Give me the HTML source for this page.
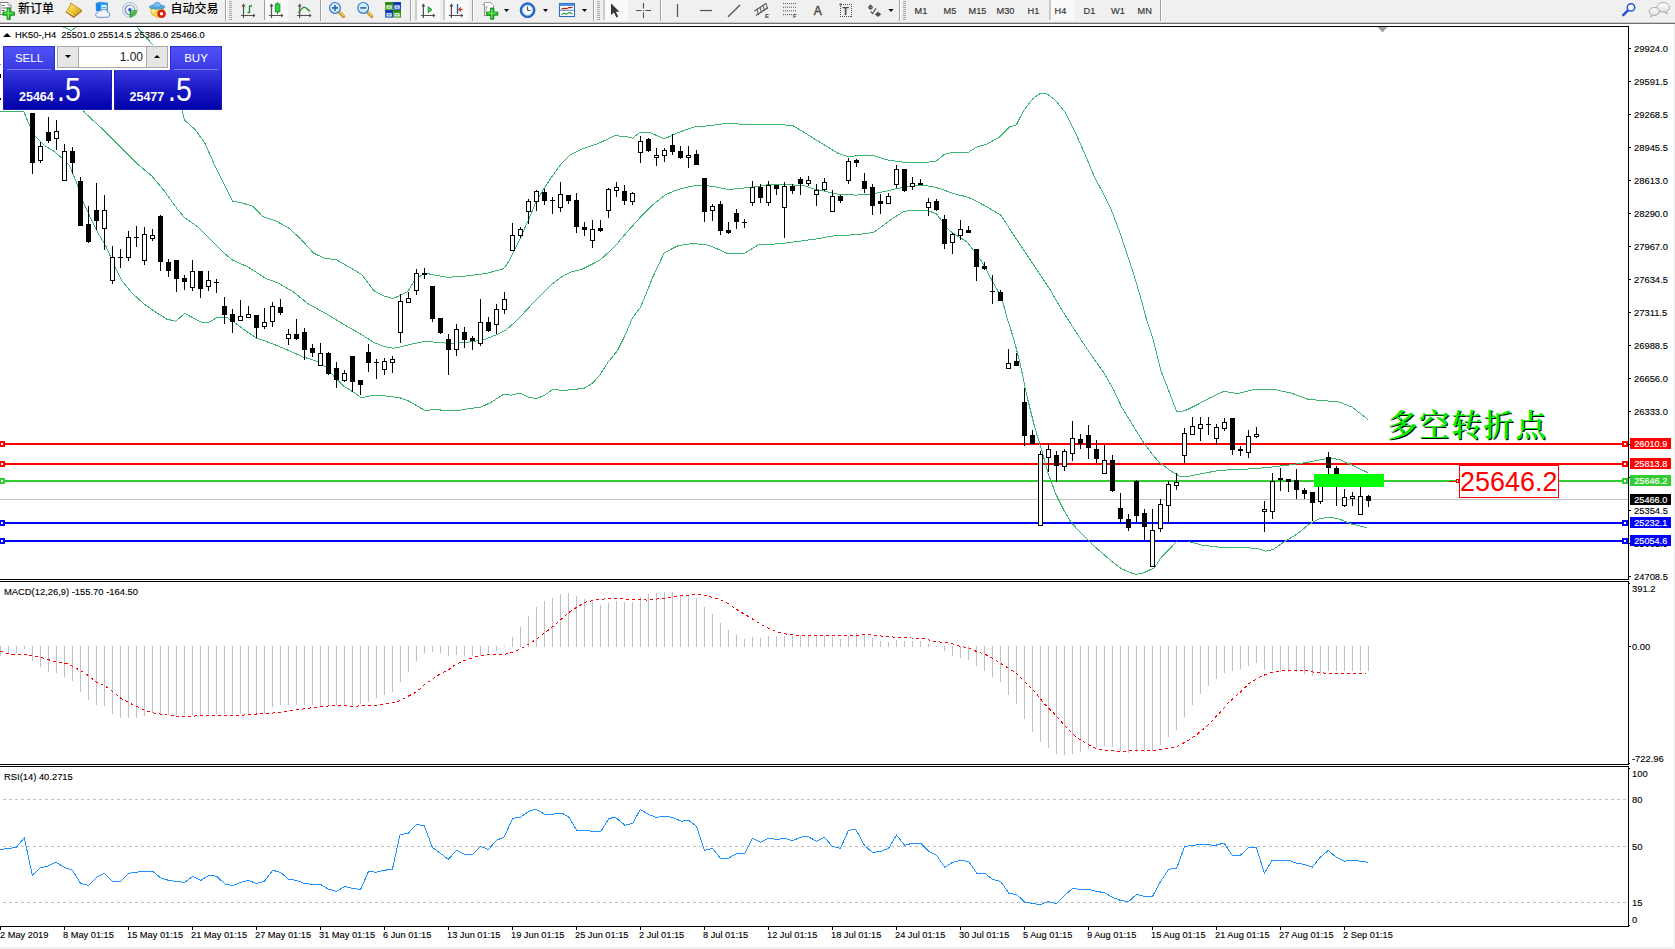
<!DOCTYPE html>
<html><head><meta charset="utf-8"><title>HK50-,H4</title>
<style>
html,body{margin:0;padding:0;}
body{width:1675px;height:949px;overflow:hidden;background:#fff;position:relative;font-family:"Liberation Sans","Noto Sans CJK SC",sans-serif;font-size:9px;color:#000;}
.abs{position:absolute;white-space:nowrap;}
.t{position:absolute;white-space:nowrap;font-size:9.4px;line-height:11px;height:11px;-webkit-text-stroke:0.12px #000;}
.pl{position:absolute;left:1630px;width:41px;height:11px;line-height:12px;font-size:9.15px;color:#fff;white-space:nowrap;-webkit-text-stroke:0.15px #fff;}
.pl span{position:absolute;left:4.3px;top:0;}

.tbt{color:#000;}
.tf{font-size:9.2px;line-height:12px;color:#303030;-webkit-text-stroke:0.15px #303030;}
.ic{font-size:6px;line-height:6px;font-weight:bold;color:#404040;}
.big{font-size:33px;line-height:36px;color:#fff;transform-origin:0 0;transform:scaleX(0.86);}
#tb{position:absolute;left:0;top:0;width:1675px;height:22px;background:#f0f0f0;}
</style></head><body>

<svg class="abs" style="left:0;top:0" width="1675" height="949" viewBox="0 0 1675 949">
<g shape-rendering="crispEdges">
<rect x="0" y="26" width="1629" height="1" fill="#000"/>
<rect x="1628" y="26" width="1" height="901" fill="#000"/>
<rect x="0" y="579" width="1629" height="1" fill="#000"/>
<rect x="0" y="581" width="1629" height="1" fill="#000"/>
<rect x="1628" y="580" width="1" height="1" fill="#fff"/>
<rect x="0" y="764" width="1629" height="1" fill="#000"/>
<rect x="0" y="766" width="1629" height="1" fill="#000"/>
<rect x="1628" y="765" width="1" height="1" fill="#fff"/>
<rect x="0" y="926" width="1629" height="1" fill="#000"/>
</g>
<defs><clipPath id="cm"><rect x="0" y="27" width="1628" height="552"/></clipPath></defs>
<g shape-rendering="crispEdges">
<rect x="0" y="499" width="1628" height="1" fill="#c0c0c0"/>
<rect x="0" y="443" width="1628" height="2" fill="#ff0000"/>
<rect x="0" y="463" width="1628" height="2" fill="#ff0000"/>
<rect x="0" y="480" width="1628" height="2" fill="#32cd32"/>
<rect x="0" y="522" width="1628" height="2" fill="#0000ff"/>
<rect x="0" y="540" width="1628" height="2" fill="#0000ff"/>
</g>
<g clip-path="url(#cm)">
<polyline points="136.0,26.0 152.0,44.0 182.0,110.0 184.6,120.2 194.7,129.1 204.8,143.0 214.9,165.7 225.0,186.0 232.6,201.1 242.7,203.2 252.9,206.2 263.0,216.8 275.6,220.9 288.3,227.7 300.9,239.1 313.5,253.0 323.7,258.0 336.3,259.8 348.9,266.9 361.6,274.5 374.2,290.9 384.3,296.0 393.2,298.5 407.6,291.9 415.2,279.3 425.3,273.0 432.9,274.8 448.0,277.3 465.7,276.0 486.0,273.5 503.7,268.7 508.7,261.6 518.8,241.4 529.0,218.6 536.5,200.9 544.1,188.3 551.7,176.9 561.8,163.0 569.4,155.4 582.1,149.1 597.2,144.0 614.9,135.7 625.0,136.4 632.6,138.2 640.2,132.1 650.3,132.6 664.2,139.0 678.1,132.6 693.3,127.1 708.5,125.8 726.2,123.5 754.0,124.6 791.9,125.1 804.6,132.6 815.2,139.4 827.8,147.0 837.9,153.3 848.0,156.6 863.2,155.1 873.3,155.4 886.0,159.7 903.7,162.2 918.8,162.4 931.5,161.9 936.5,160.9 944.1,154.6 951.7,152.6 968.2,152.3 977.0,147.0 987.1,144.0 999.8,136.9 1009.9,126.8 1016.2,125.0 1023.8,110.3 1032.6,99.0 1040.2,93.4 1046.5,93.4 1055.4,100.2 1065.5,112.9 1075.6,133.1 1085.7,155.9 1094.6,177.4 1103.4,193.8 1111.0,209.0 1118.6,229.2 1126.2,251.9 1133.8,274.7 1141.4,300.0 1146.4,319.0 1153.2,340.0 1160.8,370.3 1169.6,393.1 1176.7,411.6 1184.8,410.8 1197.5,404.5 1210.1,397.7 1224.0,391.3 1237.9,393.6 1253.1,389.8 1273.3,389.3 1291.0,393.1 1308.7,399.4 1323.9,400.7 1339.1,402.0 1351.7,407.0 1361.8,414.6 1368.1,419.7" fill="none" stroke="#3cb371" stroke-width="1" shape-rendering="crispEdges"/>
<polyline points="60.0,25.5 71.5,30.5 78.0,25.5" fill="none" stroke="#3cb371" stroke-width="1" shape-rendering="crispEdges"/>
<polyline points="83.0,110.0 84.7,112.6 101.1,127.8 118.8,145.5 136.5,163.2 151.7,175.9 164.4,191.0 177.0,208.7 184.6,217.6 197.2,226.4 209.9,239.1 222.5,251.7 232.6,260.1 247.8,266.9 265.5,278.3 278.1,283.1 293.3,291.9 308.5,304.1 326.2,313.7 343.9,324.5 359.1,333.1 374.2,342.7 384.3,346.5 393.2,348.3 400.0,347.1 412.6,343.8 425.3,341.3 448.0,343.3 465.7,342.5 483.4,340.0 496.1,334.9 506.2,329.9 518.8,318.5 531.5,304.6 541.6,294.5 551.7,284.4 561.8,276.8 571.9,271.7 582.1,269.2 599.8,260.3 614.9,246.4 627.6,231.3 640.2,217.4 652.9,204.7 665.5,194.6 678.1,189.5 690.8,186.2 703.4,185.2 716.1,187.0 728.7,189.5 741.4,188.3 754.0,187.0 769.2,184.5 786.9,184.5 804.6,185.7 812.6,188.7 825.3,191.3 837.9,194.3 855.6,195.1 873.3,193.8 886.0,191.3 896.1,188.7 908.7,186.2 921.4,185.7 931.5,186.2 941.6,189.2 954.2,193.8 966.9,196.8 977.0,201.4 989.6,208.5 1001.0,215.3 1009.9,229.2 1020.0,244.4 1030.1,259.5 1040.2,274.7 1050.3,289.9 1060.4,307.6 1081.1,340.0 1091.3,355.2 1103.9,372.9 1114.0,390.6 1121.6,407.0 1131.7,423.4 1141.8,439.9 1151.9,453.8 1159.5,462.6 1169.6,470.2 1179.8,476.5 1189.9,476.0 1202.5,473.5 1220.2,470.2 1237.9,469.7 1255.6,468.5 1270.8,467.2 1291.0,464.7 1306.2,462.6 1318.8,460.1 1328.9,458.3 1339.1,459.3 1349.2,463.9 1359.3,468.5 1368.1,472.8" fill="none" stroke="#3cb371" stroke-width="1" shape-rendering="crispEdges"/>
<polyline points="0.0,111.9 24.0,111.9 27.8,121.5 35.4,136.7 44.3,145.5 53.1,150.6 62.0,158.2 69.5,165.7 75.9,180.9 83.4,202.4 91.0,218.8 98.6,234.0 106.2,246.7 113.8,264.4 121.4,280.0 131.5,292.6 144.1,304.0 156.8,312.9 166.9,319.2 175.7,321.2 184.6,313.4 192.2,317.4 201.0,322.2 208.6,322.2 217.5,317.4 227.6,317.9 235.2,323.0 245.3,330.6 256.7,338.2 273.1,344.0 288.3,350.3 303.4,357.1 316.1,360.9 326.2,367.2 333.8,376.1 343.9,386.2 354.0,392.5 361.1,397.6 371.7,395.8 384.3,395.8 399.5,397.6 409.6,401.4 420.0,407.7 425.3,410.5 435.4,409.5 445.5,410.5 458.2,410.5 468.3,408.7 480.9,407.2 491.0,402.4 503.7,394.3 511.3,395.1 520.1,393.1 529.0,397.4 536.5,398.6 544.1,395.6 553.0,389.3 561.8,390.3 571.9,389.8 584.6,388.0 592.2,383.4 599.8,375.1 607.3,363.2 617.5,350.6 625.0,335.4 632.6,317.7 640.2,307.6 642.7,302.1 652.9,276.8 664.2,252.8 678.1,245.7 693.3,243.4 708.5,245.2 718.6,249.5 728.7,254.0 743.9,253.5 759.1,244.4 779.3,243.9 797.0,241.4 800.0,241.1 817.7,238.8 835.4,235.5 855.6,234.8 873.3,232.5 883.4,225.4 893.6,217.8 903.7,211.5 913.8,210.0 926.4,210.0 936.5,214.0 944.1,224.1 949.2,230.5 956.8,235.5 966.9,241.8 974.5,251.9 982.1,262.1 989.6,276.0 997.2,289.9 1002.3,300.0 1007.3,319.0 1014.1,340.0 1020.5,365.3 1026.8,395.6 1034.4,426.0 1042.0,451.3 1048.3,474.0 1055.9,494.2 1063.4,509.4 1071.0,522.1 1081.1,533.4 1091.3,543.6 1101.4,552.4 1111.5,561.3 1121.6,568.8 1131.7,573.1 1136.8,574.4 1144.4,572.6 1154.5,567.6 1162.1,556.2 1172.2,546.1 1176.7,541.0" fill="none" stroke="#3cb371" stroke-width="1" shape-rendering="crispEdges"/>
<polyline points="1189.4,541.8 1202.5,545.3 1220.2,547.3 1243.0,547.3 1258.1,548.6 1265.7,551.1 1273.3,549.4 1283.4,542.3 1296.1,534.7 1308.7,524.6 1318.8,519.0 1328.9,517.0 1339.1,519.0 1351.7,524.1 1366.9,527.6" fill="none" stroke="#3cb371" stroke-width="1" shape-rendering="crispEdges"/>
</g>
<g shape-rendering="crispEdges" clip-path="url(#cm)">
<rect x="32" y="113" width="1" height="61" fill="#000"/>
<rect x="30" y="113" width="5" height="50" fill="#000"/>
<rect x="40" y="142" width="1" height="21" fill="#000"/>
<rect x="38" y="146" width="5" height="15" fill="#000"/><rect x="39" y="147" width="3" height="13" fill="#fff"/>
<rect x="48" y="117" width="1" height="26" fill="#000"/>
<rect x="46" y="132" width="5" height="9" fill="#000"/>
<rect x="56" y="120" width="1" height="30" fill="#000"/>
<rect x="54" y="131" width="5" height="8" fill="#000"/><rect x="55" y="132" width="3" height="6" fill="#fff"/>
<rect x="64" y="144" width="1" height="37" fill="#000"/>
<rect x="62" y="151" width="5" height="30" fill="#000"/><rect x="63" y="152" width="3" height="28" fill="#fff"/>
<rect x="72" y="147" width="1" height="27" fill="#000"/>
<rect x="70" y="151" width="5" height="12" fill="#000"/>
<rect x="80" y="177" width="1" height="49" fill="#000"/>
<rect x="78" y="181" width="5" height="45" fill="#000"/>
<rect x="88" y="206" width="1" height="37" fill="#000"/>
<rect x="86" y="224" width="5" height="18" fill="#000"/>
<rect x="96" y="183" width="1" height="47" fill="#000"/>
<rect x="94" y="210" width="5" height="11" fill="#000"/>
<rect x="104" y="195" width="1" height="55" fill="#000"/>
<rect x="102" y="210" width="5" height="19" fill="#000"/><rect x="103" y="211" width="3" height="17" fill="#fff"/>
<rect x="112" y="246" width="1" height="38" fill="#000"/>
<rect x="110" y="257" width="5" height="24" fill="#000"/><rect x="111" y="258" width="3" height="22" fill="#fff"/>
<rect x="120" y="249" width="1" height="19" fill="#000"/>
<rect x="118" y="257" width="5" height="1" fill="#000"/>
<rect x="128" y="231" width="1" height="30" fill="#000"/>
<rect x="126" y="237" width="5" height="21" fill="#000"/><rect x="127" y="238" width="3" height="19" fill="#fff"/>
<rect x="136" y="226" width="1" height="21" fill="#000"/>
<rect x="134" y="237" width="5" height="1" fill="#000"/>
<rect x="144" y="227" width="1" height="38" fill="#000"/>
<rect x="142" y="234" width="5" height="27" fill="#000"/><rect x="143" y="235" width="3" height="25" fill="#fff"/>
<rect x="152" y="229" width="1" height="12" fill="#000"/>
<rect x="150" y="235" width="5" height="4" fill="#000"/><rect x="151" y="236" width="3" height="2" fill="#fff"/>
<rect x="160" y="215" width="1" height="56" fill="#000"/>
<rect x="158" y="216" width="5" height="46" fill="#000"/>
<rect x="168" y="259" width="1" height="18" fill="#000"/>
<rect x="166" y="262" width="5" height="9" fill="#000"/>
<rect x="176" y="260" width="1" height="32" fill="#000"/>
<rect x="174" y="260" width="5" height="19" fill="#000"/>
<rect x="184" y="275" width="1" height="15" fill="#000"/>
<rect x="182" y="278" width="5" height="4" fill="#000"/>
<rect x="192" y="260" width="1" height="31" fill="#000"/>
<rect x="190" y="271" width="5" height="17" fill="#000"/><rect x="191" y="272" width="3" height="15" fill="#fff"/>
<rect x="200" y="271" width="1" height="27" fill="#000"/>
<rect x="198" y="271" width="5" height="18" fill="#000"/>
<rect x="208" y="271" width="1" height="20" fill="#000"/>
<rect x="206" y="280" width="5" height="7" fill="#000"/><rect x="207" y="281" width="3" height="5" fill="#fff"/>
<rect x="216" y="279" width="1" height="14" fill="#000"/>
<rect x="214" y="282" width="5" height="1" fill="#000"/>
<rect x="224" y="297" width="1" height="27" fill="#000"/>
<rect x="222" y="306" width="5" height="9" fill="#000"/>
<rect x="232" y="309" width="1" height="24" fill="#000"/>
<rect x="230" y="314" width="5" height="8" fill="#000"/>
<rect x="240" y="300" width="1" height="21" fill="#000"/>
<rect x="238" y="316" width="5" height="5" fill="#000"/><rect x="239" y="317" width="3" height="3" fill="#fff"/>
<rect x="248" y="306" width="1" height="12" fill="#000"/>
<rect x="246" y="314" width="5" height="4" fill="#000"/><rect x="247" y="315" width="3" height="2" fill="#fff"/>
<rect x="256" y="315" width="1" height="23" fill="#000"/>
<rect x="254" y="315" width="5" height="13" fill="#000"/>
<rect x="264" y="308" width="1" height="21" fill="#000"/>
<rect x="262" y="322" width="5" height="5" fill="#000"/><rect x="263" y="323" width="3" height="3" fill="#fff"/>
<rect x="272" y="302" width="1" height="25" fill="#000"/>
<rect x="270" y="306" width="5" height="16" fill="#000"/><rect x="271" y="307" width="3" height="14" fill="#fff"/>
<rect x="280" y="299" width="1" height="16" fill="#000"/>
<rect x="278" y="307" width="5" height="6" fill="#000"/>
<rect x="288" y="329" width="1" height="16" fill="#000"/>
<rect x="286" y="334" width="5" height="5" fill="#000"/><rect x="287" y="335" width="3" height="3" fill="#fff"/>
<rect x="296" y="319" width="1" height="21" fill="#000"/>
<rect x="294" y="334" width="5" height="5" fill="#000"/>
<rect x="304" y="328" width="1" height="32" fill="#000"/>
<rect x="302" y="332" width="5" height="18" fill="#000"/>
<rect x="312" y="344" width="1" height="13" fill="#000"/>
<rect x="310" y="348" width="5" height="5" fill="#000"/>
<rect x="320" y="343" width="1" height="23" fill="#000"/>
<rect x="318" y="353" width="5" height="13" fill="#000"/><rect x="319" y="354" width="3" height="11" fill="#fff"/>
<rect x="328" y="352" width="1" height="23" fill="#000"/>
<rect x="326" y="353" width="5" height="21" fill="#000"/>
<rect x="336" y="362" width="1" height="26" fill="#000"/>
<rect x="334" y="368" width="5" height="12" fill="#000"/>
<rect x="344" y="370" width="1" height="12" fill="#000"/>
<rect x="342" y="373" width="5" height="8" fill="#000"/><rect x="343" y="374" width="3" height="6" fill="#fff"/>
<rect x="352" y="356" width="1" height="36" fill="#000"/>
<rect x="350" y="356" width="5" height="26" fill="#000"/>
<rect x="360" y="380" width="1" height="15" fill="#000"/>
<rect x="358" y="380" width="5" height="5" fill="#000"/>
<rect x="368" y="344" width="1" height="28" fill="#000"/>
<rect x="366" y="352" width="5" height="11" fill="#000"/>
<rect x="376" y="359" width="1" height="20" fill="#000"/>
<rect x="374" y="362" width="5" height="1" fill="#000"/>
<rect x="384" y="358" width="1" height="17" fill="#000"/>
<rect x="382" y="361" width="5" height="9" fill="#000"/><rect x="383" y="362" width="3" height="7" fill="#fff"/>
<rect x="392" y="356" width="1" height="17" fill="#000"/>
<rect x="390" y="359" width="5" height="4" fill="#000"/><rect x="391" y="360" width="3" height="2" fill="#fff"/>
<rect x="400" y="294" width="1" height="49" fill="#000"/>
<rect x="398" y="301" width="5" height="32" fill="#000"/><rect x="399" y="302" width="3" height="30" fill="#fff"/>
<rect x="408" y="292" width="1" height="11" fill="#000"/>
<rect x="406" y="298" width="5" height="5" fill="#000"/><rect x="407" y="299" width="3" height="3" fill="#fff"/>
<rect x="416" y="269" width="1" height="26" fill="#000"/>
<rect x="414" y="273" width="5" height="18" fill="#000"/><rect x="415" y="274" width="3" height="16" fill="#fff"/>
<rect x="424" y="268" width="1" height="11" fill="#000"/>
<rect x="422" y="273" width="5" height="2" fill="#000"/>
<rect x="432" y="286" width="1" height="36" fill="#000"/>
<rect x="430" y="286" width="5" height="33" fill="#000"/>
<rect x="440" y="318" width="1" height="16" fill="#000"/>
<rect x="438" y="318" width="5" height="15" fill="#000"/>
<rect x="448" y="334" width="1" height="41" fill="#000"/>
<rect x="446" y="339" width="5" height="11" fill="#000"/>
<rect x="456" y="324" width="1" height="32" fill="#000"/>
<rect x="454" y="329" width="5" height="21" fill="#000"/><rect x="455" y="330" width="3" height="19" fill="#fff"/>
<rect x="464" y="327" width="1" height="21" fill="#000"/>
<rect x="462" y="332" width="5" height="8" fill="#000"/>
<rect x="472" y="336" width="1" height="14" fill="#000"/>
<rect x="470" y="338" width="5" height="3" fill="#000"/>
<rect x="480" y="299" width="1" height="47" fill="#000"/>
<rect x="478" y="322" width="5" height="22" fill="#000"/><rect x="479" y="323" width="3" height="20" fill="#fff"/>
<rect x="488" y="317" width="1" height="15" fill="#000"/>
<rect x="486" y="322" width="5" height="9" fill="#000"/>
<rect x="496" y="304" width="1" height="30" fill="#000"/>
<rect x="494" y="309" width="5" height="16" fill="#000"/><rect x="495" y="310" width="3" height="14" fill="#fff"/>
<rect x="504" y="292" width="1" height="22" fill="#000"/>
<rect x="502" y="299" width="5" height="11" fill="#000"/><rect x="503" y="300" width="3" height="9" fill="#fff"/>
<rect x="512" y="223" width="1" height="28" fill="#000"/>
<rect x="510" y="235" width="5" height="16" fill="#000"/><rect x="511" y="236" width="3" height="14" fill="#fff"/>
<rect x="520" y="227" width="1" height="11" fill="#000"/>
<rect x="518" y="229" width="5" height="7" fill="#000"/><rect x="519" y="230" width="3" height="5" fill="#fff"/>
<rect x="528" y="199" width="1" height="25" fill="#000"/>
<rect x="526" y="201" width="5" height="11" fill="#000"/><rect x="527" y="202" width="3" height="9" fill="#fff"/>
<rect x="536" y="190" width="1" height="21" fill="#000"/>
<rect x="534" y="191" width="5" height="11" fill="#000"/><rect x="535" y="192" width="3" height="9" fill="#fff"/>
<rect x="544" y="189" width="1" height="16" fill="#000"/>
<rect x="542" y="192" width="5" height="9" fill="#000"/>
<rect x="552" y="197" width="1" height="17" fill="#000"/>
<rect x="550" y="200" width="5" height="1" fill="#000"/>
<rect x="560" y="182" width="1" height="30" fill="#000"/>
<rect x="558" y="194" width="5" height="14" fill="#000"/><rect x="559" y="195" width="3" height="12" fill="#fff"/>
<rect x="568" y="195" width="1" height="9" fill="#000"/>
<rect x="566" y="195" width="5" height="6" fill="#000"/>
<rect x="576" y="193" width="1" height="40" fill="#000"/>
<rect x="574" y="200" width="5" height="27" fill="#000"/>
<rect x="584" y="222" width="1" height="14" fill="#000"/>
<rect x="582" y="227" width="5" height="3" fill="#000"/>
<rect x="592" y="220" width="1" height="28" fill="#000"/>
<rect x="590" y="229" width="5" height="12" fill="#000"/><rect x="591" y="230" width="3" height="10" fill="#fff"/>
<rect x="600" y="220" width="1" height="12" fill="#000"/>
<rect x="598" y="228" width="5" height="3" fill="#000"/>
<rect x="608" y="188" width="1" height="30" fill="#000"/>
<rect x="606" y="189" width="5" height="22" fill="#000"/><rect x="607" y="190" width="3" height="20" fill="#fff"/>
<rect x="616" y="182" width="1" height="15" fill="#000"/>
<rect x="614" y="187" width="5" height="4" fill="#000"/><rect x="615" y="188" width="3" height="2" fill="#fff"/>
<rect x="624" y="185" width="1" height="20" fill="#000"/>
<rect x="622" y="191" width="5" height="10" fill="#000"/>
<rect x="632" y="192" width="1" height="13" fill="#000"/>
<rect x="630" y="193" width="5" height="9" fill="#000"/><rect x="631" y="194" width="3" height="7" fill="#fff"/>
<rect x="640" y="136" width="1" height="27" fill="#000"/>
<rect x="638" y="141" width="5" height="12" fill="#000"/><rect x="639" y="142" width="3" height="10" fill="#fff"/>
<rect x="648" y="138" width="1" height="14" fill="#000"/>
<rect x="646" y="139" width="5" height="12" fill="#000"/>
<rect x="656" y="148" width="1" height="18" fill="#000"/>
<rect x="654" y="155" width="5" height="3" fill="#000"/><rect x="655" y="156" width="3" height="1" fill="#fff"/>
<rect x="664" y="148" width="1" height="14" fill="#000"/>
<rect x="662" y="150" width="5" height="6" fill="#000"/><rect x="663" y="151" width="3" height="4" fill="#fff"/>
<rect x="672" y="134" width="1" height="21" fill="#000"/>
<rect x="670" y="145" width="5" height="7" fill="#000"/>
<rect x="680" y="146" width="1" height="13" fill="#000"/>
<rect x="678" y="151" width="5" height="7" fill="#000"/>
<rect x="688" y="146" width="1" height="22" fill="#000"/>
<rect x="686" y="155" width="5" height="3" fill="#000"/><rect x="687" y="156" width="3" height="1" fill="#fff"/>
<rect x="696" y="150" width="1" height="15" fill="#000"/>
<rect x="694" y="154" width="5" height="11" fill="#000"/>
<rect x="704" y="178" width="1" height="44" fill="#000"/>
<rect x="702" y="178" width="5" height="34" fill="#000"/>
<rect x="712" y="204" width="1" height="17" fill="#000"/>
<rect x="710" y="206" width="5" height="5" fill="#000"/><rect x="711" y="207" width="3" height="3" fill="#fff"/>
<rect x="720" y="201" width="1" height="34" fill="#000"/>
<rect x="718" y="204" width="5" height="27" fill="#000"/>
<rect x="728" y="222" width="1" height="12" fill="#000"/>
<rect x="726" y="230" width="5" height="3" fill="#000"/>
<rect x="736" y="209" width="1" height="20" fill="#000"/>
<rect x="734" y="213" width="5" height="9" fill="#000"/>
<rect x="744" y="219" width="1" height="9" fill="#000"/>
<rect x="742" y="222" width="5" height="1" fill="#000"/>
<rect x="752" y="181" width="1" height="25" fill="#000"/>
<rect x="750" y="187" width="5" height="16" fill="#000"/><rect x="751" y="188" width="3" height="14" fill="#fff"/>
<rect x="760" y="184" width="1" height="19" fill="#000"/>
<rect x="758" y="187" width="5" height="11" fill="#000"/>
<rect x="768" y="181" width="1" height="25" fill="#000"/>
<rect x="766" y="185" width="5" height="18" fill="#000"/><rect x="767" y="186" width="3" height="16" fill="#fff"/>
<rect x="776" y="185" width="1" height="10" fill="#000"/>
<rect x="774" y="185" width="5" height="4" fill="#000"/>
<rect x="784" y="182" width="1" height="56" fill="#000"/>
<rect x="782" y="186" width="5" height="22" fill="#000"/><rect x="783" y="187" width="3" height="20" fill="#fff"/>
<rect x="792" y="184" width="1" height="10" fill="#000"/>
<rect x="790" y="186" width="5" height="5" fill="#000"/>
<rect x="800" y="177" width="1" height="18" fill="#000"/>
<rect x="798" y="179" width="5" height="5" fill="#000"/>
<rect x="808" y="176" width="1" height="10" fill="#000"/>
<rect x="806" y="180" width="5" height="4" fill="#000"/><rect x="807" y="181" width="3" height="2" fill="#fff"/>
<rect x="816" y="184" width="1" height="22" fill="#000"/>
<rect x="814" y="190" width="5" height="5" fill="#000"/><rect x="815" y="191" width="3" height="3" fill="#fff"/>
<rect x="824" y="178" width="1" height="13" fill="#000"/>
<rect x="822" y="182" width="5" height="8" fill="#000"/><rect x="823" y="183" width="3" height="6" fill="#fff"/>
<rect x="832" y="190" width="1" height="22" fill="#000"/>
<rect x="830" y="196" width="5" height="16" fill="#000"/><rect x="831" y="197" width="3" height="14" fill="#fff"/>
<rect x="840" y="195" width="1" height="8" fill="#000"/>
<rect x="838" y="196" width="5" height="5" fill="#000"/>
<rect x="848" y="158" width="1" height="26" fill="#000"/>
<rect x="846" y="161" width="5" height="20" fill="#000"/><rect x="847" y="162" width="3" height="18" fill="#fff"/>
<rect x="856" y="159" width="1" height="8" fill="#000"/>
<rect x="854" y="160" width="5" height="3" fill="#000"/>
<rect x="864" y="173" width="1" height="20" fill="#000"/>
<rect x="862" y="181" width="5" height="8" fill="#000"/>
<rect x="872" y="184" width="1" height="31" fill="#000"/>
<rect x="870" y="187" width="5" height="19" fill="#000"/>
<rect x="880" y="194" width="1" height="20" fill="#000"/>
<rect x="878" y="201" width="5" height="3" fill="#000"/>
<rect x="888" y="193" width="1" height="11" fill="#000"/>
<rect x="886" y="196" width="5" height="8" fill="#000"/><rect x="887" y="197" width="3" height="6" fill="#fff"/>
<rect x="896" y="165" width="1" height="23" fill="#000"/>
<rect x="894" y="169" width="5" height="16" fill="#000"/><rect x="895" y="170" width="3" height="14" fill="#fff"/>
<rect x="904" y="169" width="1" height="23" fill="#000"/>
<rect x="902" y="169" width="5" height="22" fill="#000"/>
<rect x="912" y="177" width="1" height="13" fill="#000"/>
<rect x="910" y="183" width="5" height="4" fill="#000"/><rect x="911" y="184" width="3" height="2" fill="#fff"/>
<rect x="920" y="179" width="1" height="6" fill="#000"/>
<rect x="918" y="183" width="5" height="2" fill="#000"/>
<rect x="928" y="198" width="1" height="18" fill="#000"/>
<rect x="926" y="202" width="5" height="6" fill="#000"/><rect x="927" y="203" width="3" height="4" fill="#fff"/>
<rect x="936" y="199" width="1" height="12" fill="#000"/>
<rect x="934" y="201" width="5" height="9" fill="#000"/>
<rect x="944" y="215" width="1" height="34" fill="#000"/>
<rect x="942" y="219" width="5" height="25" fill="#000"/>
<rect x="952" y="233" width="1" height="21" fill="#000"/>
<rect x="950" y="234" width="5" height="9" fill="#000"/><rect x="951" y="235" width="3" height="7" fill="#fff"/>
<rect x="960" y="220" width="1" height="20" fill="#000"/>
<rect x="958" y="229" width="5" height="7" fill="#000"/><rect x="959" y="230" width="3" height="5" fill="#fff"/>
<rect x="968" y="226" width="1" height="7" fill="#000"/>
<rect x="966" y="230" width="5" height="3" fill="#000"/>
<rect x="976" y="249" width="1" height="32" fill="#000"/>
<rect x="974" y="249" width="5" height="18" fill="#000"/>
<rect x="984" y="262" width="1" height="8" fill="#000"/>
<rect x="982" y="266" width="5" height="3" fill="#000"/>
<rect x="992" y="275" width="1" height="29" fill="#000"/>
<rect x="990" y="291" width="5" height="1" fill="#000"/>
<rect x="1000" y="290" width="1" height="11" fill="#000"/>
<rect x="998" y="292" width="5" height="9" fill="#000"/>
<rect x="1008" y="349" width="1" height="20" fill="#000"/>
<rect x="1006" y="363" width="5" height="6" fill="#000"/><rect x="1007" y="364" width="3" height="4" fill="#fff"/>
<rect x="1016" y="353" width="1" height="13" fill="#000"/>
<rect x="1014" y="361" width="5" height="5" fill="#000"/>
<rect x="1024" y="388" width="1" height="58" fill="#000"/>
<rect x="1022" y="402" width="5" height="34" fill="#000"/>
<rect x="1032" y="430" width="1" height="14" fill="#000"/>
<rect x="1030" y="435" width="5" height="9" fill="#000"/>
<rect x="1040" y="451" width="1" height="75" fill="#000"/>
<rect x="1038" y="454" width="5" height="72" fill="#000"/><rect x="1039" y="455" width="3" height="70" fill="#fff"/>
<rect x="1048" y="443" width="1" height="29" fill="#000"/>
<rect x="1046" y="449" width="5" height="9" fill="#000"/><rect x="1047" y="450" width="3" height="7" fill="#fff"/>
<rect x="1056" y="451" width="1" height="31" fill="#000"/>
<rect x="1054" y="455" width="5" height="11" fill="#000"/>
<rect x="1064" y="449" width="1" height="22" fill="#000"/>
<rect x="1062" y="451" width="5" height="16" fill="#000"/><rect x="1063" y="452" width="3" height="14" fill="#fff"/>
<rect x="1072" y="421" width="1" height="40" fill="#000"/>
<rect x="1070" y="438" width="5" height="16" fill="#000"/><rect x="1071" y="439" width="3" height="14" fill="#fff"/>
<rect x="1080" y="434" width="1" height="15" fill="#000"/>
<rect x="1078" y="439" width="5" height="5" fill="#000"/>
<rect x="1088" y="425" width="1" height="34" fill="#000"/>
<rect x="1086" y="435" width="5" height="13" fill="#000"/>
<rect x="1096" y="440" width="1" height="23" fill="#000"/>
<rect x="1094" y="449" width="5" height="10" fill="#000"/>
<rect x="1104" y="445" width="1" height="29" fill="#000"/>
<rect x="1102" y="460" width="5" height="14" fill="#000"/><rect x="1103" y="461" width="3" height="12" fill="#fff"/>
<rect x="1112" y="455" width="1" height="37" fill="#000"/>
<rect x="1110" y="460" width="5" height="31" fill="#000"/>
<rect x="1120" y="493" width="1" height="30" fill="#000"/>
<rect x="1118" y="508" width="5" height="11" fill="#000"/>
<rect x="1128" y="514" width="1" height="17" fill="#000"/>
<rect x="1126" y="519" width="5" height="9" fill="#000"/>
<rect x="1136" y="480" width="1" height="42" fill="#000"/>
<rect x="1134" y="481" width="5" height="35" fill="#000"/>
<rect x="1144" y="509" width="1" height="31" fill="#000"/>
<rect x="1142" y="513" width="5" height="14" fill="#000"/>
<rect x="1152" y="509" width="1" height="58" fill="#000"/>
<rect x="1150" y="530" width="5" height="37" fill="#000"/><rect x="1151" y="531" width="3" height="35" fill="#fff"/>
<rect x="1160" y="499" width="1" height="33" fill="#000"/>
<rect x="1158" y="504" width="5" height="25" fill="#000"/><rect x="1159" y="505" width="3" height="23" fill="#fff"/>
<rect x="1168" y="481" width="1" height="43" fill="#000"/>
<rect x="1166" y="484" width="5" height="22" fill="#000"/><rect x="1167" y="485" width="3" height="20" fill="#fff"/>
<rect x="1176" y="473" width="1" height="17" fill="#000"/>
<rect x="1174" y="482" width="5" height="4" fill="#000"/><rect x="1175" y="483" width="3" height="2" fill="#fff"/>
<rect x="1184" y="428" width="1" height="35" fill="#000"/>
<rect x="1182" y="433" width="5" height="23" fill="#000"/><rect x="1183" y="434" width="3" height="21" fill="#fff"/>
<rect x="1192" y="417" width="1" height="18" fill="#000"/>
<rect x="1190" y="426" width="5" height="9" fill="#000"/><rect x="1191" y="427" width="3" height="7" fill="#fff"/>
<rect x="1200" y="417" width="1" height="24" fill="#000"/>
<rect x="1198" y="424" width="5" height="5" fill="#000"/><rect x="1199" y="425" width="3" height="3" fill="#fff"/>
<rect x="1208" y="417" width="1" height="18" fill="#000"/>
<rect x="1206" y="424" width="5" height="1" fill="#000"/>
<rect x="1216" y="424" width="1" height="21" fill="#000"/>
<rect x="1214" y="427" width="5" height="12" fill="#000"/><rect x="1215" y="428" width="3" height="10" fill="#fff"/>
<rect x="1224" y="418" width="1" height="13" fill="#000"/>
<rect x="1222" y="422" width="5" height="7" fill="#000"/><rect x="1223" y="423" width="3" height="5" fill="#fff"/>
<rect x="1232" y="418" width="1" height="37" fill="#000"/>
<rect x="1230" y="418" width="5" height="32" fill="#000"/>
<rect x="1240" y="446" width="1" height="10" fill="#000"/>
<rect x="1238" y="449" width="5" height="2" fill="#000"/>
<rect x="1248" y="430" width="1" height="28" fill="#000"/>
<rect x="1246" y="436" width="5" height="17" fill="#000"/><rect x="1247" y="437" width="3" height="15" fill="#fff"/>
<rect x="1256" y="427" width="1" height="11" fill="#000"/>
<rect x="1254" y="434" width="5" height="3" fill="#000"/><rect x="1255" y="435" width="3" height="1" fill="#fff"/>
<rect x="1264" y="501" width="1" height="31" fill="#000"/>
<rect x="1262" y="509" width="5" height="3" fill="#000"/><rect x="1263" y="510" width="3" height="1" fill="#fff"/>
<rect x="1272" y="473" width="1" height="46" fill="#000"/>
<rect x="1270" y="481" width="5" height="31" fill="#000"/><rect x="1271" y="482" width="3" height="29" fill="#fff"/>
<rect x="1280" y="468" width="1" height="23" fill="#000"/>
<rect x="1278" y="478" width="5" height="2" fill="#000"/>
<rect x="1288" y="479" width="1" height="13" fill="#000"/>
<rect x="1286" y="479" width="5" height="3" fill="#000"/>
<rect x="1296" y="469" width="1" height="30" fill="#000"/>
<rect x="1294" y="480" width="5" height="10" fill="#000"/>
<rect x="1304" y="488" width="1" height="11" fill="#000"/>
<rect x="1302" y="490" width="5" height="4" fill="#000"/>
<rect x="1312" y="492" width="1" height="29" fill="#000"/>
<rect x="1310" y="492" width="5" height="11" fill="#000"/>
<rect x="1320" y="483" width="1" height="21" fill="#000"/>
<rect x="1318" y="485" width="5" height="17" fill="#000"/><rect x="1319" y="486" width="3" height="15" fill="#fff"/>
<rect x="1328" y="452" width="1" height="25" fill="#000"/>
<rect x="1326" y="457" width="5" height="11" fill="#000"/>
<rect x="1336" y="466" width="1" height="40" fill="#000"/>
<rect x="1334" y="468" width="5" height="9" fill="#000"/>
<rect x="1344" y="489" width="1" height="18" fill="#000"/>
<rect x="1342" y="497" width="5" height="9" fill="#000"/><rect x="1343" y="498" width="3" height="7" fill="#fff"/>
<rect x="1352" y="492" width="1" height="14" fill="#000"/>
<rect x="1350" y="496" width="5" height="3" fill="#000"/><rect x="1351" y="497" width="3" height="1" fill="#fff"/>
<rect x="1360" y="487" width="1" height="28" fill="#000"/>
<rect x="1358" y="496" width="5" height="19" fill="#000"/><rect x="1359" y="497" width="3" height="17" fill="#fff"/>
<rect x="1368" y="495" width="1" height="12" fill="#000"/>
<rect x="1366" y="496" width="5" height="5" fill="#000"/>
</g>
<rect x="0" y="74" width="1" height="4" fill="#000"/><rect x="0" y="98" width="1" height="2" fill="#000"/><rect x="0" y="64" width="1" height="1" fill="#3cb371"/>
<rect x="1314" y="474" width="70" height="13" fill="#00ff00" shape-rendering="crispEdges"/>
<g shape-rendering="crispEdges">
<rect x="-1" y="441" width="6" height="6" fill="#ff0000"/><rect x="1" y="443" width="2" height="2" fill="#fff"/>
<rect x="1622" y="441" width="6" height="6" fill="#ff0000"/><rect x="1624" y="443" width="2" height="2" fill="#fff"/>
<rect x="-1" y="461" width="6" height="6" fill="#ff0000"/><rect x="1" y="463" width="2" height="2" fill="#fff"/>
<rect x="1622" y="461" width="6" height="6" fill="#ff0000"/><rect x="1624" y="463" width="2" height="2" fill="#fff"/>
<rect x="-1" y="478" width="6" height="6" fill="#32cd32"/><rect x="1" y="480" width="2" height="2" fill="#fff"/>
<rect x="1622" y="478" width="6" height="6" fill="#32cd32"/><rect x="1624" y="480" width="2" height="2" fill="#fff"/>
<rect x="-1" y="520" width="6" height="6" fill="#0000ff"/><rect x="1" y="522" width="2" height="2" fill="#fff"/>
<rect x="1622" y="520" width="6" height="6" fill="#0000ff"/><rect x="1624" y="522" width="2" height="2" fill="#fff"/>
<rect x="-1" y="538" width="6" height="6" fill="#0000ff"/><rect x="1" y="540" width="2" height="2" fill="#fff"/>
<rect x="1622" y="538" width="6" height="6" fill="#0000ff"/><rect x="1624" y="540" width="2" height="2" fill="#fff"/>
</g>
<polygon points="1377.5,27 1387.5,27 1382.5,32.5" fill="#a0a0a0"/>
<g shape-rendering="crispEdges">
<rect x="0" y="646" width="1" height="10" fill="#c0c0c0"/>
<rect x="8" y="646" width="1" height="7" fill="#c0c0c0"/>
<rect x="16" y="646" width="1" height="7" fill="#c0c0c0"/>
<rect x="24" y="646" width="1" height="3" fill="#c0c0c0"/>
<rect x="32" y="646" width="1" height="15" fill="#c0c0c0"/>
<rect x="40" y="646" width="1" height="21" fill="#c0c0c0"/>
<rect x="48" y="646" width="1" height="26" fill="#c0c0c0"/>
<rect x="56" y="646" width="1" height="27" fill="#c0c0c0"/>
<rect x="64" y="646" width="1" height="31" fill="#c0c0c0"/>
<rect x="72" y="646" width="1" height="35" fill="#c0c0c0"/>
<rect x="80" y="646" width="1" height="46" fill="#c0c0c0"/>
<rect x="88" y="646" width="1" height="54" fill="#c0c0c0"/>
<rect x="96" y="646" width="1" height="59" fill="#c0c0c0"/>
<rect x="104" y="646" width="1" height="60" fill="#c0c0c0"/>
<rect x="112" y="646" width="1" height="68" fill="#c0c0c0"/>
<rect x="120" y="646" width="1" height="72" fill="#c0c0c0"/>
<rect x="128" y="646" width="1" height="72" fill="#c0c0c0"/>
<rect x="136" y="646" width="1" height="72" fill="#c0c0c0"/>
<rect x="144" y="646" width="1" height="70" fill="#c0c0c0"/>
<rect x="152" y="646" width="1" height="67" fill="#c0c0c0"/>
<rect x="160" y="646" width="1" height="69" fill="#c0c0c0"/>
<rect x="168" y="646" width="1" height="69" fill="#c0c0c0"/>
<rect x="176" y="646" width="1" height="69" fill="#c0c0c0"/>
<rect x="184" y="646" width="1" height="69" fill="#c0c0c0"/>
<rect x="192" y="646" width="1" height="69" fill="#c0c0c0"/>
<rect x="200" y="646" width="1" height="69" fill="#c0c0c0"/>
<rect x="208" y="646" width="1" height="68" fill="#c0c0c0"/>
<rect x="216" y="646" width="1" height="68" fill="#c0c0c0"/>
<rect x="224" y="646" width="1" height="68" fill="#c0c0c0"/>
<rect x="232" y="646" width="1" height="68" fill="#c0c0c0"/>
<rect x="240" y="646" width="1" height="68" fill="#c0c0c0"/>
<rect x="248" y="646" width="1" height="68" fill="#c0c0c0"/>
<rect x="256" y="646" width="1" height="68" fill="#c0c0c0"/>
<rect x="264" y="646" width="1" height="68" fill="#c0c0c0"/>
<rect x="272" y="646" width="1" height="61" fill="#c0c0c0"/>
<rect x="280" y="646" width="1" height="59" fill="#c0c0c0"/>
<rect x="288" y="646" width="1" height="59" fill="#c0c0c0"/>
<rect x="296" y="646" width="1" height="59" fill="#c0c0c0"/>
<rect x="304" y="646" width="1" height="59" fill="#c0c0c0"/>
<rect x="312" y="646" width="1" height="59" fill="#c0c0c0"/>
<rect x="320" y="646" width="1" height="60" fill="#c0c0c0"/>
<rect x="328" y="646" width="1" height="60" fill="#c0c0c0"/>
<rect x="336" y="646" width="1" height="60" fill="#c0c0c0"/>
<rect x="344" y="646" width="1" height="59" fill="#c0c0c0"/>
<rect x="352" y="646" width="1" height="59" fill="#c0c0c0"/>
<rect x="360" y="646" width="1" height="58" fill="#c0c0c0"/>
<rect x="368" y="646" width="1" height="56" fill="#c0c0c0"/>
<rect x="376" y="646" width="1" height="52" fill="#c0c0c0"/>
<rect x="384" y="646" width="1" height="49" fill="#c0c0c0"/>
<rect x="392" y="646" width="1" height="46" fill="#c0c0c0"/>
<rect x="400" y="646" width="1" height="36" fill="#c0c0c0"/>
<rect x="408" y="646" width="1" height="26" fill="#c0c0c0"/>
<rect x="416" y="646" width="1" height="15" fill="#c0c0c0"/>
<rect x="424" y="646" width="1" height="7" fill="#c0c0c0"/>
<rect x="432" y="646" width="1" height="6" fill="#c0c0c0"/>
<rect x="440" y="646" width="1" height="7" fill="#c0c0c0"/>
<rect x="448" y="646" width="1" height="10" fill="#c0c0c0"/>
<rect x="456" y="646" width="1" height="9" fill="#c0c0c0"/>
<rect x="464" y="646" width="1" height="10" fill="#c0c0c0"/>
<rect x="472" y="646" width="1" height="10" fill="#c0c0c0"/>
<rect x="480" y="646" width="1" height="9" fill="#c0c0c0"/>
<rect x="488" y="646" width="1" height="7" fill="#c0c0c0"/>
<rect x="496" y="646" width="1" height="5" fill="#c0c0c0"/>
<rect x="504" y="646" width="1" height="1" fill="#c0c0c0"/>
<rect x="512" y="637" width="1" height="10" fill="#c0c0c0"/>
<rect x="520" y="627" width="1" height="20" fill="#c0c0c0"/>
<rect x="528" y="616" width="1" height="31" fill="#c0c0c0"/>
<rect x="536" y="607" width="1" height="40" fill="#c0c0c0"/>
<rect x="544" y="601" width="1" height="46" fill="#c0c0c0"/>
<rect x="552" y="598" width="1" height="49" fill="#c0c0c0"/>
<rect x="560" y="594" width="1" height="53" fill="#c0c0c0"/>
<rect x="568" y="593" width="1" height="54" fill="#c0c0c0"/>
<rect x="576" y="596" width="1" height="51" fill="#c0c0c0"/>
<rect x="584" y="599" width="1" height="48" fill="#c0c0c0"/>
<rect x="592" y="602" width="1" height="45" fill="#c0c0c0"/>
<rect x="600" y="605" width="1" height="42" fill="#c0c0c0"/>
<rect x="608" y="603" width="1" height="44" fill="#c0c0c0"/>
<rect x="616" y="601" width="1" height="46" fill="#c0c0c0"/>
<rect x="624" y="602" width="1" height="45" fill="#c0c0c0"/>
<rect x="632" y="602" width="1" height="45" fill="#c0c0c0"/>
<rect x="640" y="597" width="1" height="50" fill="#c0c0c0"/>
<rect x="648" y="594" width="1" height="53" fill="#c0c0c0"/>
<rect x="656" y="593" width="1" height="54" fill="#c0c0c0"/>
<rect x="664" y="592" width="1" height="55" fill="#c0c0c0"/>
<rect x="672" y="592" width="1" height="55" fill="#c0c0c0"/>
<rect x="680" y="595" width="1" height="52" fill="#c0c0c0"/>
<rect x="688" y="595" width="1" height="52" fill="#c0c0c0"/>
<rect x="696" y="598" width="1" height="49" fill="#c0c0c0"/>
<rect x="704" y="607" width="1" height="40" fill="#c0c0c0"/>
<rect x="712" y="614" width="1" height="33" fill="#c0c0c0"/>
<rect x="720" y="623" width="1" height="24" fill="#c0c0c0"/>
<rect x="728" y="630" width="1" height="17" fill="#c0c0c0"/>
<rect x="736" y="635" width="1" height="12" fill="#c0c0c0"/>
<rect x="744" y="639" width="1" height="8" fill="#c0c0c0"/>
<rect x="752" y="637" width="1" height="10" fill="#c0c0c0"/>
<rect x="760" y="638" width="1" height="9" fill="#c0c0c0"/>
<rect x="768" y="636" width="1" height="11" fill="#c0c0c0"/>
<rect x="776" y="636" width="1" height="11" fill="#c0c0c0"/>
<rect x="784" y="636" width="1" height="11" fill="#c0c0c0"/>
<rect x="792" y="636" width="1" height="11" fill="#c0c0c0"/>
<rect x="800" y="635" width="1" height="12" fill="#c0c0c0"/>
<rect x="808" y="635" width="1" height="12" fill="#c0c0c0"/>
<rect x="816" y="636" width="1" height="11" fill="#c0c0c0"/>
<rect x="824" y="636" width="1" height="11" fill="#c0c0c0"/>
<rect x="832" y="637" width="1" height="10" fill="#c0c0c0"/>
<rect x="840" y="639" width="1" height="8" fill="#c0c0c0"/>
<rect x="848" y="636" width="1" height="11" fill="#c0c0c0"/>
<rect x="856" y="633" width="1" height="14" fill="#c0c0c0"/>
<rect x="864" y="634" width="1" height="13" fill="#c0c0c0"/>
<rect x="872" y="638" width="1" height="9" fill="#c0c0c0"/>
<rect x="880" y="641" width="1" height="6" fill="#c0c0c0"/>
<rect x="888" y="642" width="1" height="5" fill="#c0c0c0"/>
<rect x="896" y="640" width="1" height="7" fill="#c0c0c0"/>
<rect x="904" y="641" width="1" height="6" fill="#c0c0c0"/>
<rect x="912" y="641" width="1" height="6" fill="#c0c0c0"/>
<rect x="920" y="641" width="1" height="6" fill="#c0c0c0"/>
<rect x="928" y="644" width="1" height="3" fill="#c0c0c0"/>
<rect x="936" y="646" width="1" height="1" fill="#c0c0c0"/>
<rect x="944" y="646" width="1" height="5" fill="#c0c0c0"/>
<rect x="952" y="646" width="1" height="10" fill="#c0c0c0"/>
<rect x="960" y="646" width="1" height="12" fill="#c0c0c0"/>
<rect x="968" y="646" width="1" height="14" fill="#c0c0c0"/>
<rect x="976" y="646" width="1" height="20" fill="#c0c0c0"/>
<rect x="984" y="646" width="1" height="25" fill="#c0c0c0"/>
<rect x="992" y="646" width="1" height="31" fill="#c0c0c0"/>
<rect x="1000" y="646" width="1" height="36" fill="#c0c0c0"/>
<rect x="1008" y="646" width="1" height="49" fill="#c0c0c0"/>
<rect x="1016" y="646" width="1" height="58" fill="#c0c0c0"/>
<rect x="1024" y="646" width="1" height="73" fill="#c0c0c0"/>
<rect x="1032" y="646" width="1" height="86" fill="#c0c0c0"/>
<rect x="1040" y="646" width="1" height="96" fill="#c0c0c0"/>
<rect x="1048" y="646" width="1" height="102" fill="#c0c0c0"/>
<rect x="1056" y="646" width="1" height="108" fill="#c0c0c0"/>
<rect x="1064" y="646" width="1" height="109" fill="#c0c0c0"/>
<rect x="1072" y="646" width="1" height="108" fill="#c0c0c0"/>
<rect x="1080" y="646" width="1" height="106" fill="#c0c0c0"/>
<rect x="1088" y="646" width="1" height="103" fill="#c0c0c0"/>
<rect x="1096" y="646" width="1" height="102" fill="#c0c0c0"/>
<rect x="1104" y="646" width="1" height="100" fill="#c0c0c0"/>
<rect x="1112" y="646" width="1" height="101" fill="#c0c0c0"/>
<rect x="1120" y="646" width="1" height="105" fill="#c0c0c0"/>
<rect x="1128" y="646" width="1" height="107" fill="#c0c0c0"/>
<rect x="1136" y="646" width="1" height="106" fill="#c0c0c0"/>
<rect x="1144" y="646" width="1" height="106" fill="#c0c0c0"/>
<rect x="1152" y="646" width="1" height="105" fill="#c0c0c0"/>
<rect x="1160" y="646" width="1" height="99" fill="#c0c0c0"/>
<rect x="1168" y="646" width="1" height="91" fill="#c0c0c0"/>
<rect x="1176" y="646" width="1" height="84" fill="#c0c0c0"/>
<rect x="1184" y="646" width="1" height="71" fill="#c0c0c0"/>
<rect x="1192" y="646" width="1" height="59" fill="#c0c0c0"/>
<rect x="1200" y="646" width="1" height="48" fill="#c0c0c0"/>
<rect x="1208" y="646" width="1" height="40" fill="#c0c0c0"/>
<rect x="1216" y="646" width="1" height="33" fill="#c0c0c0"/>
<rect x="1224" y="646" width="1" height="27" fill="#c0c0c0"/>
<rect x="1232" y="646" width="1" height="25" fill="#c0c0c0"/>
<rect x="1240" y="646" width="1" height="23" fill="#c0c0c0"/>
<rect x="1248" y="646" width="1" height="20" fill="#c0c0c0"/>
<rect x="1256" y="646" width="1" height="17" fill="#c0c0c0"/>
<rect x="1264" y="646" width="1" height="24" fill="#c0c0c0"/>
<rect x="1272" y="646" width="1" height="25" fill="#c0c0c0"/>
<rect x="1280" y="646" width="1" height="26" fill="#c0c0c0"/>
<rect x="1288" y="646" width="1" height="26" fill="#c0c0c0"/>
<rect x="1296" y="646" width="1" height="26" fill="#c0c0c0"/>
<rect x="1304" y="646" width="1" height="28" fill="#c0c0c0"/>
<rect x="1312" y="646" width="1" height="30" fill="#c0c0c0"/>
<rect x="1320" y="646" width="1" height="29" fill="#c0c0c0"/>
<rect x="1328" y="646" width="1" height="25" fill="#c0c0c0"/>
<rect x="1336" y="646" width="1" height="25" fill="#c0c0c0"/>
<rect x="1344" y="646" width="1" height="25" fill="#c0c0c0"/>
<rect x="1352" y="646" width="1" height="25" fill="#c0c0c0"/>
<rect x="1360" y="646" width="1" height="25" fill="#c0c0c0"/>
<rect x="1368" y="646" width="1" height="25" fill="#c0c0c0"/>
</g>
<polyline points="0.0,651.0 7.5,653.5 15.0,654.5 25.1,654.5 37.6,656.5 47.6,659.5 56.4,661.8 67.7,664.0 80.2,670.3 87.8,675.3 96.5,682.3 104.1,685.3 112.8,691.6 120.4,697.9 127.9,702.1 136.7,706.6 145.4,710.4 153.0,712.9 163.0,714.4 175.5,716.2 190.6,716.2 208.1,715.4 225.7,715.4 240.7,715.4 250.7,714.2 265.8,713.7 280.8,712.2 295.9,709.9 310.9,707.9 326.0,706.1 343.5,705.4 351.0,706.1 366.1,705.9 378.6,704.9 388.7,703.6 398.7,701.1 408.7,695.9 416.3,692.1 425.1,684.1 432.6,679.1 440.1,674.0 447.6,670.3 456.4,664.0 465.2,660.3 472.7,657.7 480.2,655.7 487.8,654.7 496.5,654.7 505.3,654.2 512.8,652.2 520.4,649.0 527.9,644.7 536.7,638.9 544.2,633.2 553.0,626.4 560.5,620.1 568.0,613.1 576.8,607.1 585.6,602.1 598.1,599.6 608.1,598.6 620.7,598.8 635.7,599.6 648.2,600.1 663.3,598.3 675.8,596.3 688.4,595.1 697.1,594.1 708.4,596.3 718.4,598.8 728.5,603.8 738.5,610.6 751.0,618.1 763.6,625.9 776.1,631.4 788.7,634.7 801.2,635.4 825.1,635.4 857.7,635.4 865.2,634.4 875.2,635.4 887.8,636.7 905.3,637.7 925.4,638.7 932.9,641.2 950.4,643.2 960.5,646.5 968.0,647.7 975.5,651.0 985.6,654.5 995.6,660.3 1005.6,666.5 1015.6,672.8 1025.7,682.8 1035.7,692.9 1045.7,705.4 1055.8,715.4 1065.8,726.7 1075.8,736.7 1085.9,743.5 1095.9,748.5 1105.9,750.5 1121.0,751.3 1136.0,750.5 1153.6,750.5 1166.1,748.5 1176.1,746.8 1186.1,741.7 1196.2,735.0 1206.2,726.7 1213.7,719.2 1219.9,712.5 1228.4,702.6 1238.3,694.1 1248.2,684.2 1261.0,676.5 1270.9,672.3 1285.1,670.6 1304.9,670.3 1313.4,672.0 1327.6,673.4 1347.5,673.4 1365.9,673.4" fill="none" stroke="#ff0000" stroke-width="1" stroke-dasharray="3,3" shape-rendering="crispEdges"/>
<g shape-rendering="crispEdges">
<line x1="3" y1="799.5" x2="1628" y2="799.5" stroke="#c0c0c0" stroke-width="1" stroke-dasharray="3,3"/>
<line x1="3" y1="846.5" x2="1628" y2="846.5" stroke="#c0c0c0" stroke-width="1" stroke-dasharray="3,3"/>
<line x1="3" y1="902.5" x2="1628" y2="902.5" stroke="#c0c0c0" stroke-width="1" stroke-dasharray="3,3"/>
</g>
<polyline points="0.0,849.5 10.0,848.3 16.3,847.3 24.3,837.7 32.3,875.3 40.4,867.8 48.4,865.8 55.7,862.3 64.4,867.3 72.5,870.3 80.5,883.4 88.5,885.4 96.5,877.3 104.1,873.3 112.6,881.4 120.6,881.4 128.6,873.3 136.7,872.1 144.7,871.3 152.7,871.3 160.7,877.9 168.8,880.4 176.8,881.6 184.8,882.4 192.8,876.3 200.8,880.4 208.9,875.3 216.9,876.3 224.9,884.1 232.9,885.4 241.0,882.4 248.2,880.4 256.3,883.4 264.3,881.4 272.8,870.3 280.3,872.3 288.4,879.1 296.4,880.4 304.4,883.4 312.4,884.4 320.5,884.4 328.5,889.1 336.5,891.4 344.8,886.4 352.5,888.4 360.6,889.4 368.6,871.3 376.1,872.3 384.1,870.3 392.4,869.3 400.0,834.7 408.3,833.2 416.3,824.4 424.3,825.7 432.3,847.3 440.4,853.3 448.4,859.3 456.4,850.3 464.4,854.3 472.5,854.3 480.5,846.3 488.5,849.5 496.5,840.2 504.1,837.2 512.6,818.4 520.6,817.2 528.6,811.4 535.7,809.1 544.7,814.2 552.7,814.2 558.0,813.2 563.0,813.7 568.8,817.2 576.8,830.5 586.8,830.5 592.8,831.5 600.8,831.5 608.9,818.4 615.6,817.4 624.9,825.2 632.9,823.2 640.2,809.4 648.2,814.2 656.3,817.4 664.3,816.2 672.3,817.4 681.3,821.2 688.4,820.2 696.4,826.2 704.4,850.3 712.4,848.3 720.5,858.3 728.5,858.3 736.5,853.5 744.8,853.3 752.5,838.2 760.6,842.2 768.6,838.2 776.6,839.5 784.6,838.2 792.7,840.7 800.7,837.2 807.2,836.2 816.5,841.2 824.3,837.2 832.3,846.3 840.4,848.3 848.4,830.5 855.7,829.2 864.4,845.3 872.5,852.5 880.5,851.5 888.5,848.3 896.5,835.2 904.6,845.3 912.6,843.2 920.6,843.2 928.6,851.3 936.7,855.3 944.7,867.3 952.7,862.3 960.7,860.3 968.8,861.6 976.8,873.3 984.8,873.3 992.8,879.4 1000.8,881.6 1008.9,893.4 1016.9,894.7 1024.9,902.4 1032.9,903.4 1040.2,904.7 1048.2,901.4 1056.3,903.7 1064.3,895.4 1072.8,888.4 1080.3,889.4 1088.4,889.4 1096.4,891.4 1104.4,892.6 1112.4,897.4 1120.5,900.4 1128.5,901.7 1136.5,894.4 1144.8,896.4 1152.5,896.4 1160.6,881.4 1168.6,869.3 1176.6,868.3 1184.6,846.5 1192.7,845.3 1200.7,844.5 1208.7,844.5 1215.0,845.8 1216.2,845.1 1224.1,843.1 1232.0,855.3 1240.3,855.3 1248.2,847.9 1256.1,847.1 1264.4,873.1 1272.3,860.1 1280.3,860.1 1288.2,860.1 1296.4,863.2 1304.4,864.4 1312.3,867.2 1320.2,857.3 1328.2,850.5 1336.4,857.3 1344.3,861.2 1352.3,860.1 1360.2,861.2 1368.4,862.4" fill="none" stroke="#1e90ff" stroke-width="1" shape-rendering="crispEdges"/>
<g shape-rendering="crispEdges">
<rect x="1629" y="48" width="2" height="1" fill="#000"/>
<rect x="1629" y="81" width="2" height="1" fill="#000"/>
<rect x="1629" y="114" width="2" height="1" fill="#000"/>
<rect x="1629" y="147" width="2" height="1" fill="#000"/>
<rect x="1629" y="180" width="2" height="1" fill="#000"/>
<rect x="1629" y="213" width="2" height="1" fill="#000"/>
<rect x="1629" y="246" width="2" height="1" fill="#000"/>
<rect x="1629" y="279" width="2" height="1" fill="#000"/>
<rect x="1629" y="312" width="2" height="1" fill="#000"/>
<rect x="1629" y="345" width="2" height="1" fill="#000"/>
<rect x="1629" y="378" width="2" height="1" fill="#000"/>
<rect x="1629" y="411" width="2" height="1" fill="#000"/>
<rect x="1629" y="444" width="2" height="1" fill="#000"/>
<rect x="1629" y="477" width="2" height="1" fill="#000"/>
<rect x="1629" y="510" width="2" height="1" fill="#000"/>
<rect x="1629" y="543" width="2" height="1" fill="#000"/>
<rect x="1629" y="576" width="2" height="1" fill="#000"/>
<rect x="1629" y="583" width="1" height="1" fill="#000"/>
<rect x="1629" y="646" width="2" height="1" fill="#000"/>
<rect x="1629" y="763" width="1" height="1" fill="#000"/>
<rect x="1629" y="768" width="1" height="1" fill="#000"/>
<rect x="1629" y="925" width="1" height="1" fill="#000"/>
<rect x="0" y="927" width="1" height="3" fill="#000"/>
<rect x="64" y="927" width="1" height="3" fill="#000"/>
<rect x="128" y="927" width="1" height="3" fill="#000"/>
<rect x="192" y="927" width="1" height="3" fill="#000"/>
<rect x="256" y="927" width="1" height="3" fill="#000"/>
<rect x="320" y="927" width="1" height="3" fill="#000"/>
<rect x="384" y="927" width="1" height="3" fill="#000"/>
<rect x="448" y="927" width="1" height="3" fill="#000"/>
<rect x="512" y="927" width="1" height="3" fill="#000"/>
<rect x="576" y="927" width="1" height="3" fill="#000"/>
<rect x="640" y="927" width="1" height="3" fill="#000"/>
<rect x="704" y="927" width="1" height="3" fill="#000"/>
<rect x="768" y="927" width="1" height="3" fill="#000"/>
<rect x="832" y="927" width="1" height="3" fill="#000"/>
<rect x="896" y="927" width="1" height="3" fill="#000"/>
<rect x="960" y="927" width="1" height="3" fill="#000"/>
<rect x="1024" y="927" width="1" height="3" fill="#000"/>
<rect x="1088" y="927" width="1" height="3" fill="#000"/>
<rect x="1152" y="927" width="1" height="3" fill="#000"/>
<rect x="1216" y="927" width="1" height="3" fill="#000"/>
<rect x="1280" y="927" width="1" height="3" fill="#000"/>
<rect x="1344" y="927" width="1" height="3" fill="#000"/>
</g>
</svg>
<div id="tb"></div>
<div class="abs" style="left:0;top:22px;width:1675px;height:1px;background:#c8c8c8"></div>
<div class="abs" style="left:0;top:23px;width:1675px;height:1px;background:#707070"></div>
<svg class="abs" style="left:0;top:0" width="1675" height="22" viewBox="0 0 1675 22"><path d="M0 2.5H8L11 5.5V14.5H0Z" fill="#fff" stroke="#808080" stroke-width="1"/><path d="M8 2.5V5.5H11" fill="#e8e8e8" stroke="#9a9a9a" stroke-width="0.8"/><path d="M1.5 5.5H5 M1.5 8H7 M1.5 10.5H5" stroke="#707070" stroke-width="1"/><path d="M7.1 7.8H10.299999999999999V12.0H14.5V15.2H10.299999999999999V19.4H7.1V15.2H2.8999999999999995V12.0H7.1Z" fill="#22c322" stroke="#0a7a0a" stroke-width="0.8"/><path d="M4.1 13.2H13.3 M8.299999999999999 9.0V18.2" stroke="#7af07a" stroke-width="0.9" fill="none"/><defs><linearGradient id="gb" x1="0" y1="0" x2="1" y2="1"><stop offset="0" stop-color="#fff0a0"/><stop offset="0.45" stop-color="#f2cc3a"/><stop offset="1" stop-color="#c8901a"/></linearGradient></defs><path d="M65.9 12.6L73.8 17.9L82 11.6V10.4L73.8 16.3L65.9 11.4Z" fill="#a86c10"/><path d="M70.8 3L82 10.4L73.8 16.4L65.9 11.6C68.5 9.5 70 6.5 70.8 3Z" fill="url(#gb)" stroke="#b47a14" stroke-width="0.8"/><path d="M67.2 11.4L74 15.4" stroke="#fff4b8" stroke-width="0.7" fill="none"/><path d="M96 3.5L100 2.2L107.5 3V11H96.5Z" fill="#2f9cf0" stroke="#1a78d0" stroke-width="0.6"/><path d="M100 2.2L100.5 11H96.5L96 3.5Z" fill="#1a86e8"/><rect x="101.5" y="5" width="5" height="5" fill="#e8f4ff"/><path d="M102.5 7.5H105.5" stroke="#2f9cf0" stroke-width="1"/><path d="M97 17.3H107.5a2.6 2.6 0 0 0 0.3-5.1a3.6 3.6 0 0 0-6.6-1.4a2.3 2.3 0 0 0-3.4 1.8a2.5 2.5 0 0 0-0.8 4.7Z" fill="#eef3fb" stroke="#5d7fc0" stroke-width="0.9"/><path d="M130 2.5A7.4 7.4 0 0 0 130 17.3" fill="none" stroke="#a8bce4" stroke-width="1"/><path d="M130 5A4.9 4.9 0 0 0 130 14.8" fill="none" stroke="#5f86d8" stroke-width="1.1"/><path d="M130 2.5A7.4 7.4 0 0 1 137.4 9.9" fill="none" stroke="#a8c4b8" stroke-width="1"/><path d="M130 5A4.9 4.9 0 0 1 134.9 9.9" fill="none" stroke="#88aac0" stroke-width="1.1"/><path d="M130.4 10H137.4A7.4 7.4 0 0 1 130.4 17.4Z" fill="#8cc88c"/><path d="M133 10A3 3 0 0 1 130.4 13.2V17.4A7.4 7.4 0 0 0 137.4 10Z" fill="#58b058"/><path d="M130.4 10V17.5" stroke="#20a020" stroke-width="1.4"/><circle cx="129.9" cy="9.7" r="1.7" fill="#2858d0"/><path d="M150.3 8L163.2 7.6L163.6 11.5L157 17.6L152 14.6Z" fill="#f6d84a" stroke="#d8a818" stroke-width="0.7"/><path d="M151 9L157 9.6L153 13.5Z" fill="#fbeb90"/><ellipse cx="157.2" cy="7" rx="7.9" ry="2.1" fill="#5aa8e4" stroke="#2f86c8" stroke-width="0.7"/><path d="M153 6.6C153 1.2 161 1.2 161.2 6.4C158.5 7.6 155.5 7.6 153 6.6Z" fill="#7cc0f0" stroke="#2f86c8" stroke-width="0.7"/><circle cx="161.5" cy="13.8" r="4" fill="#e02010"/><circle cx="161.5" cy="13.8" r="4" fill="none" stroke="#b01808" stroke-width="0.5"/><rect x="160.1" y="12.4" width="2.8" height="2.8" fill="#fff"/><rect x="225" y="0" width="1" height="21" fill="#a0a0a0"/><rect x="226" y="0" width="1" height="21" fill="#fff"/><rect x="229" y="1" width="3" height="1" fill="#a8a8a8"/><rect x="229" y="3" width="3" height="1" fill="#a8a8a8"/><rect x="229" y="5" width="3" height="1" fill="#a8a8a8"/><rect x="229" y="7" width="3" height="1" fill="#a8a8a8"/><rect x="229" y="9" width="3" height="1" fill="#a8a8a8"/><rect x="229" y="11" width="3" height="1" fill="#a8a8a8"/><rect x="229" y="13" width="3" height="1" fill="#a8a8a8"/><rect x="229" y="15" width="3" height="1" fill="#a8a8a8"/><rect x="229" y="17" width="3" height="1" fill="#a8a8a8"/><rect x="229" y="19" width="3" height="1" fill="#a8a8a8"/><path d="M243.5 4.5V18 M241.0 15.5H254.5" stroke="#505050" stroke-width="1.2" fill="none"/><path d="M241.5 6.5L243.5 3.5L245.5 6.5Z M253.0 13.5L255.5 15.5L253.0 17.5Z" fill="#505050"/><path d="M249.5 5.5V13 M249.5 6H252 M247.5 12.5H249.5" stroke="#189030" stroke-width="1.3" fill="none"/><rect x="264" y="0" width="24" height="21" fill="#f9f9f9"/><rect x="264" y="0" width="1" height="20" fill="#a0a0a0"/><path d="M271.5 4.5V18 M269.0 15.5H282.5" stroke="#505050" stroke-width="1.2" fill="none"/><path d="M269.5 6.5L271.5 3.5L273.5 6.5Z M281.0 13.5L283.5 15.5L281.0 17.5Z" fill="#505050"/><path d="M277.5 2.2V14" stroke="#189030" stroke-width="1.2"/><rect x="275.3" y="4" width="4.6" height="7.8" fill="#30d040" stroke="#189030" stroke-width="0.9"/><path d="M299.7 4.5V18 M297.2 15.5H310.7" stroke="#505050" stroke-width="1.2" fill="none"/><path d="M297.7 6.5L299.7 3.5L301.7 6.5Z M309.2 13.5L311.7 15.5L309.2 17.5Z" fill="#505050"/><path d="M298.3 12.8C301 9.5 303 7.2 304.5 7.2S307.5 9.8 310 11.3" stroke="#189030" stroke-width="1.3" fill="none"/><rect x="320" y="0" width="1" height="21" fill="#a0a0a0"/><rect x="321" y="0" width="1" height="21" fill="#fff"/><path d="M339.2 12L343.6 16.3" stroke="#b88a18" stroke-width="3.2" stroke-linecap="round"/><path d="M339.4 11.8L343.8 16.1" stroke="#f0d868" stroke-width="1.4" stroke-linecap="round"/><circle cx="335" cy="7.9" r="5.4" fill="#d4ecfa" stroke="#2a7ad0" stroke-width="1.2"/><path d="M332 7.9H338 M335 4.9V10.9" stroke="#2a6aa8" stroke-width="1.6"/><path d="M367.4 12L371.8 16.3" stroke="#b88a18" stroke-width="3.2" stroke-linecap="round"/><path d="M367.59999999999997 11.8L372.0 16.1" stroke="#f0d868" stroke-width="1.4" stroke-linecap="round"/><circle cx="363.2" cy="7.9" r="5.4" fill="#d4ecfa" stroke="#2a7ad0" stroke-width="1.2"/><path d="M360.2 7.9H366.2" stroke="#2a6aa8" stroke-width="1.6"/><rect x="385.2" y="2.2" width="7.8" height="7.6" fill="#38a018"/><rect x="385.2" y="2.2" width="7.8" height="2" fill="#2a8010"/><rect x="386.5" y="5.4" width="5.2" height="3.3" fill="#f4f8ff"/><rect x="387.5" y="6.6000000000000005" width="3.2" height="0.9" fill="#38a018"/><rect x="393.2" y="2.2" width="7.8" height="7.6" fill="#1848c8"/><rect x="393.2" y="2.2" width="7.8" height="2" fill="#1038a0"/><rect x="394.5" y="5.4" width="5.2" height="3.3" fill="#f4f8ff"/><rect x="395.5" y="6.6000000000000005" width="3.2" height="0.9" fill="#1848c8"/><rect x="385.2" y="10" width="7.8" height="7.6" fill="#1848c8"/><rect x="385.2" y="10" width="7.8" height="2" fill="#1038a0"/><rect x="386.5" y="13.2" width="5.2" height="3.3" fill="#f4f8ff"/><rect x="387.5" y="14.4" width="3.2" height="0.9" fill="#1848c8"/><rect x="393.2" y="10" width="7.8" height="7.6" fill="#38a018"/><rect x="393.2" y="10" width="7.8" height="2" fill="#2a8010"/><rect x="394.5" y="13.2" width="5.2" height="3.3" fill="#f4f8ff"/><rect x="395.5" y="14.4" width="3.2" height="0.9" fill="#38a018"/><rect x="410" y="0" width="1" height="21" fill="#a0a0a0"/><rect x="411" y="0" width="1" height="21" fill="#fff"/><rect x="415.5" y="0" width="24.5" height="21" fill="#f9f9f9"/><rect x="415.5" y="0" width="1" height="20" fill="#a0a0a0"/><path d="M423.4 4.5V18 M420.9 15.5H434.4" stroke="#505050" stroke-width="1.2" fill="none"/><path d="M421.4 6.5L423.4 3.5L425.4 6.5Z M432.9 13.5L435.4 15.5L432.9 17.5Z" fill="#505050"/><path d="M428.2 6.8L432 9.7L428.2 12.6Z" fill="#40d050" stroke="#189030" stroke-width="0.9"/><rect x="443.5" y="0" width="25" height="21" fill="#f9f9f9"/><rect x="443.5" y="0" width="1" height="20" fill="#a0a0a0"/><path d="M451.4 4.5V18 M448.9 15.5H462.4" stroke="#505050" stroke-width="1.2" fill="none"/><path d="M449.4 6.5L451.4 3.5L453.4 6.5Z M460.9 13.5L463.4 15.5L460.9 17.5Z" fill="#505050"/><path d="M457.5 4V14" stroke="#1860b0" stroke-width="1.3"/><path d="M458.6 9.5H462.6 M461 7.5L458.8 9.5L461 11.5" stroke="#d83010" stroke-width="1.1" fill="none"/><rect x="472" y="0" width="1" height="21" fill="#a0a0a0"/><rect x="473" y="0" width="1" height="21" fill="#fff"/><path d="M484.5 2.5H490.5L493.5 5.5V15.5H484.5Z" fill="#fff" stroke="#8a8a8a" stroke-width="0.8"/><path d="M482.3 4.5H484.5V15.5H490" fill="none" stroke="#8a8a8a" stroke-width="0.8"/><path d="M486 6.5V12.5 M486 7H488" stroke="#909090" stroke-width="0.8" fill="none"/><path d="M490.59999999999997 8.0H493.8V12.0H497.8V15.2H493.8V19.2H490.59999999999997V15.2H486.59999999999997V12.0H490.59999999999997Z" fill="#22c322" stroke="#0a7a0a" stroke-width="0.8"/><path d="M487.79999999999995 13.2H496.6 M491.8 9.2V18.0" stroke="#7af07a" stroke-width="0.9" fill="none"/><path d="M504 9H509L506.5 12Z" fill="#000"/><circle cx="527.6" cy="10.2" r="7.4" fill="#1e6fd8"/><circle cx="527.6" cy="10.2" r="7.4" fill="none" stroke="#0c48a0" stroke-width="0.8"/><circle cx="527.6" cy="10.2" r="5.2" fill="#f4f8fc" stroke="#9ec0ea" stroke-width="0.8"/><path d="M527.6 6.5V10.4H530.4" stroke="#404040" stroke-width="1" fill="none"/><path d="M543 9H548L545.5 12Z" fill="#000"/><rect x="559.5" y="3.5" width="15" height="13" fill="#fff" stroke="#2a6ac8" stroke-width="1.1"/><rect x="559.5" y="3.5" width="15" height="2.4" fill="#4a8ae0"/><path d="M560 10.3H574.5" stroke="#2a6ac8" stroke-width="0.8"/><path d="M561.5 9L564 8.4L566.5 8.8L569 7.6L572.5 7.4" stroke="#b02010" stroke-width="1.1" fill="none"/><path d="M561.5 14.4L564 13.3L566.5 14.2L569.5 12.4L572.5 14" stroke="#189030" stroke-width="1.1" fill="none"/><path d="M582 9H587L584.5 12Z" fill="#000"/><rect x="593" y="0" width="1" height="21" fill="#a0a0a0"/><rect x="594" y="0" width="1" height="21" fill="#fff"/><rect x="597" y="1" width="3" height="1" fill="#a8a8a8"/><rect x="597" y="3" width="3" height="1" fill="#a8a8a8"/><rect x="597" y="5" width="3" height="1" fill="#a8a8a8"/><rect x="597" y="7" width="3" height="1" fill="#a8a8a8"/><rect x="597" y="9" width="3" height="1" fill="#a8a8a8"/><rect x="597" y="11" width="3" height="1" fill="#a8a8a8"/><rect x="597" y="13" width="3" height="1" fill="#a8a8a8"/><rect x="597" y="15" width="3" height="1" fill="#a8a8a8"/><rect x="597" y="17" width="3" height="1" fill="#a8a8a8"/><rect x="597" y="19" width="3" height="1" fill="#a8a8a8"/><rect x="603.5" y="0" width="24.5" height="21" fill="#f9f9f9"/><rect x="603.5" y="0" width="1" height="20" fill="#a0a0a0"/><path d="M611 3.3V15L613.9 12.4L616.4 17.4L618.2 16.5L615.8 11.7H619.4Z" fill="#383838"/><path d="M643.5 3V8.5 M643.5 12.5V18 M636 10.5H641.5 M645.5 10.5H651" stroke="#505050" stroke-width="1.1"/><rect x="643" y="10" width="1" height="1" fill="#505050"/><rect x="660" y="0" width="1" height="21" fill="#a0a0a0"/><rect x="661" y="0" width="1" height="21" fill="#fff"/><path d="M677.5 4V17" stroke="#505050" stroke-width="1.2"/><path d="M700 10.5H712" stroke="#505050" stroke-width="1.2"/><path d="M728 16.8L740 5" stroke="#505050" stroke-width="1.2"/><path d="M754.5 11L766 3.5 M756 15.5L768 7.5" stroke="#505050" stroke-width="1.1"/><path d="M757 9L758.5 15 M760 7L761.5 13 M763 5L764.5 11 M766 3L767.5 9" stroke="#505050" stroke-width="0.9"/><path d="M783 3.6H796" stroke="#505050" stroke-width="1" stroke-dasharray="1,1"/><path d="M783 7.2H796" stroke="#505050" stroke-width="1" stroke-dasharray="1,1"/><path d="M783 10.8H796" stroke="#505050" stroke-width="1" stroke-dasharray="1,1"/><path d="M783 14.6H792.5" stroke="#505050" stroke-width="1" stroke-dasharray="1,1"/><rect x="840.5" y="4.5" width="11" height="12" fill="none" stroke="#505050" stroke-width="1" stroke-dasharray="1,1" shape-rendering="crispEdges"/><rect x="839.5" y="3.5" width="2" height="2" fill="#505050"/><path d="M870.5 4.3L873.3 7.4H867.7Z M867.7 7.8H873.3L870.5 10Z" fill="#505050"/><path d="M878 11.7L881.2 14.2L878 17L874.8 14.2Z" fill="#505050"/><path d="M870.8 11.5L872.6 13.6L876 8.4" stroke="#505050" stroke-width="1.2" fill="none"/><path d="M888.5 9H893.5L891.0 12Z" fill="#000"/><rect x="899" y="0" width="1" height="21" fill="#a0a0a0"/><rect x="900" y="0" width="1" height="21" fill="#fff"/><rect x="903" y="1" width="3" height="1" fill="#a8a8a8"/><rect x="903" y="3" width="3" height="1" fill="#a8a8a8"/><rect x="903" y="5" width="3" height="1" fill="#a8a8a8"/><rect x="903" y="7" width="3" height="1" fill="#a8a8a8"/><rect x="903" y="9" width="3" height="1" fill="#a8a8a8"/><rect x="903" y="11" width="3" height="1" fill="#a8a8a8"/><rect x="903" y="13" width="3" height="1" fill="#a8a8a8"/><rect x="903" y="15" width="3" height="1" fill="#a8a8a8"/><rect x="903" y="17" width="3" height="1" fill="#a8a8a8"/><rect x="903" y="19" width="3" height="1" fill="#a8a8a8"/><rect x="1049.5" y="0" width="25" height="21" fill="#f9f9f9"/><rect x="1049.5" y="0" width="1" height="20" fill="#a0a0a0"/><rect x="1160" y="0" width="1" height="21" fill="#a0a0a0"/><rect x="1161" y="0" width="1" height="21" fill="#fff"/><path d="M1628.2 10.2L1623.2 15.2" stroke="#2a50d8" stroke-width="2.4" stroke-linecap="round"/><circle cx="1631" cy="7.4" r="3.7" fill="#fff" stroke="#2a50d8" stroke-width="1.5"/><defs><linearGradient id="cb" x1="0" y1="0" x2="0" y2="1"><stop offset="0" stop-color="#ffffff"/><stop offset="1" stop-color="#d8d8de"/></linearGradient></defs><path d="M1663.2 2.6c3.5 0 6.3 2.1 6.3 4.7c0 1.8-1.3 3.3-3.2 4.1l0.9 2.4l-2.9-1.9c-0.4 0-0.7 0.1-1.1 0.1c-3.5 0-6.3-2.1-6.3-4.7s2.800-4.700 6.300-4.700Z" fill="url(#cb)" stroke="#9c9c9c" stroke-width="0.9"/><path d="M1654.300 7.500c2.800 0 5.100 1.700 5.100 3.900s-2.300 3.900-5.100 3.900c-0.400 0-0.800 0-1.200-0.100l-2.400 1.900l0.600-2.500c-1.300-0.700-2.100-1.900-2.100-3.200c0-2.200 2.300-3.900 5.100-3.900Z" fill="url(#cb)" stroke="#9c9c9c" stroke-width="0.9"/></svg>
<div class="abs tbt" style="left:18px;top:2px;font-size:12px;line-height:15px;font-weight:500">新订单</div>
<div class="abs tbt" style="left:170.5px;top:2px;font-size:12px;line-height:15px;font-weight:500">自动交易</div>
<div class="abs tf" style="left:914.5px;top:5px">M1</div>
<div class="abs tf" style="left:943.5px;top:5px">M5</div>
<div class="abs tf" style="left:968.5px;top:5px">M15</div>
<div class="abs tf" style="left:996.5px;top:5px">M30</div>
<div class="abs tf" style="left:1027.5px;top:5px">H1</div>
<div class="abs tf" style="left:1054.5px;top:5px">H4</div>
<div class="abs tf" style="left:1083.5px;top:5px">D1</div>
<div class="abs tf" style="left:1111px;top:5px">W1</div>
<div class="abs tf" style="left:1137.5px;top:5px">MN</div>
<div class="abs ic" style="left:765px;top:13px">E</div>
<div class="abs ic" style="left:793px;top:13px">F</div>
<div class="abs" style="left:813.8px;top:4px;font-size:12px;line-height:14px;color:#484848;-webkit-text-stroke:0.4px #484848">A</div>
<div class="abs" style="left:842.3px;top:5px;font-size:11px;line-height:13px;font-weight:bold;color:#505050">T</div>
<div class="t" style="left:1634px;top:43px">29924.0</div>
<div class="t" style="left:1634px;top:76px">29591.5</div>
<div class="t" style="left:1634px;top:109px">29268.5</div>
<div class="t" style="left:1634px;top:142px">28945.5</div>
<div class="t" style="left:1634px;top:175px">28613.0</div>
<div class="t" style="left:1634px;top:208px">28290.0</div>
<div class="t" style="left:1634px;top:241px">27967.0</div>
<div class="t" style="left:1634px;top:274px">27634.5</div>
<div class="t" style="left:1634px;top:307px">27311.5</div>
<div class="t" style="left:1634px;top:340px">26988.5</div>
<div class="t" style="left:1634px;top:373px">26656.0</div>
<div class="t" style="left:1634px;top:406px">26333.0</div>
<div class="t" style="left:1634px;top:472px">25687.0</div>
<div class="t" style="left:1634px;top:505px">25354.5</div>
<div class="t" style="left:1634px;top:538px">25031.5</div>
<div class="t" style="left:1634px;top:571px">24708.5</div>
<div class="t" style="left:1632px;top:583px">391.2</div>
<div class="t" style="left:1632px;top:641px">0.00</div>
<div class="t" style="left:1632px;top:753px">-722.96</div>
<div class="t" style="left:1632px;top:768px">100</div>
<div class="t" style="left:1632px;top:794px">80</div>
<div class="t" style="left:1632px;top:841px">50</div>
<div class="t" style="left:1632px;top:897px">15</div>
<div class="t" style="left:1632px;top:914px">0</div>
<div class="pl" style="top:438px;background:#ff0000"><span>26010.9</span></div>
<div class="pl" style="top:458px;background:#ff0000"><span>25813.8</span></div>
<div class="pl" style="top:475px;background:#32cd32"><span>25646.2</span></div>
<div class="pl" style="top:494px;background:#000"><span>25466.0</span></div>
<div class="pl" style="top:517px;background:#0000ff"><span>25232.1</span></div>
<div class="pl" style="top:535px;background:#0000ff"><span>25054.6</span></div>
<div class="t" style="left:0px;top:929.5px;font-size:9.25px">2 May 2019</div>
<div class="t" style="left:63px;top:929.5px;font-size:9.25px">8 May 01:15</div>
<div class="t" style="left:127px;top:929.5px;font-size:9.25px">15 May 01:15</div>
<div class="t" style="left:191px;top:929.5px;font-size:9.25px">21 May 01:15</div>
<div class="t" style="left:255px;top:929.5px;font-size:9.25px">27 May 01:15</div>
<div class="t" style="left:319px;top:929.5px;font-size:9.25px">31 May 01:15</div>
<div class="t" style="left:383px;top:929.5px;font-size:9.25px">6 Jun 01:15</div>
<div class="t" style="left:447px;top:929.5px;font-size:9.25px">13 Jun 01:15</div>
<div class="t" style="left:511px;top:929.5px;font-size:9.25px">19 Jun 01:15</div>
<div class="t" style="left:575px;top:929.5px;font-size:9.25px">25 Jun 01:15</div>
<div class="t" style="left:639px;top:929.5px;font-size:9.25px">2 Jul 01:15</div>
<div class="t" style="left:703px;top:929.5px;font-size:9.25px">8 Jul 01:15</div>
<div class="t" style="left:767px;top:929.5px;font-size:9.25px">12 Jul 01:15</div>
<div class="t" style="left:831px;top:929.5px;font-size:9.25px">18 Jul 01:15</div>
<div class="t" style="left:895px;top:929.5px;font-size:9.25px">24 Jul 01:15</div>
<div class="t" style="left:959px;top:929.5px;font-size:9.25px">30 Jul 01:15</div>
<div class="t" style="left:1023px;top:929.5px;font-size:9.25px">5 Aug 01:15</div>
<div class="t" style="left:1087px;top:929.5px;font-size:9.25px">9 Aug 01:15</div>
<div class="t" style="left:1151px;top:929.5px;font-size:9.25px">15 Aug 01:15</div>
<div class="t" style="left:1215px;top:929.5px;font-size:9.25px">21 Aug 01:15</div>
<div class="t" style="left:1279px;top:929.5px;font-size:9.25px">27 Aug 01:15</div>
<div class="t" style="left:1343px;top:929.5px;font-size:9.25px">2 Sep 01:15</div>
<div class="abs" style="left:3px;top:33px;width:0;height:0;border-left:4px solid transparent;border-right:4px solid transparent;border-bottom:4px solid #000"></div>
<div class="t" style="left:15px;top:28.8px">HK50-,H4&nbsp; 25501.0 25514.5 25386.0 25466.0</div>
<div class="t" style="left:4px;top:585.5px">MACD(12,26,9) -155.70 -164.50</div>
<div class="t" style="left:4px;top:770.5px">RSI(14) 40.2715</div>

<div class="abs" style="left:3px;top:46px;width:219px;height:64px;background:linear-gradient(#5252fa,#3a3ae2 37%,#1c1cc8 65%,#0000a8);"></div>
<div class="abs" style="left:55px;top:45px;width:115px;height:25px;background:#fff"></div>
<div class="abs" style="left:112px;top:70px;width:2px;height:41px;background:#fff"></div>
<div class="abs" style="left:3px;top:46px;width:52px;height:24px;box-sizing:border-box;border:1px solid #2c2cd0;border-bottom:none"></div>
<div class="abs" style="left:170px;top:46px;width:52px;height:24px;box-sizing:border-box;border:1px solid #2c2cd0;border-bottom:none"></div>
<div class="abs" style="left:3px;top:70px;width:109px;height:40px;box-sizing:border-box;border:1px solid #1a1ab8;border-top:none"></div>
<div class="abs" style="left:114px;top:70px;width:108px;height:40px;box-sizing:border-box;border:1px solid #1a1ab8;border-top:none"></div>
<div class="abs" style="left:7px;top:69px;width:44px;height:1px;background:#7a7af6"></div>
<div class="abs" style="left:174px;top:69px;width:44px;height:1px;background:#7a7af6"></div>
<div class="abs" style="left:3px;top:46px;width:52px;height:24px;line-height:25px;text-align:center;color:#fff;font-size:11.5px">SELL</div>
<div class="abs" style="left:170px;top:46px;width:52px;height:24px;line-height:25px;text-align:center;color:#fff;font-size:11.5px">BUY</div>
<div class="abs" style="left:57px;top:46px;width:111px;height:22px;box-sizing:border-box;border:1px solid #a8a8a8;background:#fff"></div>
<div class="abs" style="left:58px;top:47px;width:20px;height:20px;background:#e6e6e6;border-right:1px solid #a8a8a8"></div>
<div class="abs" style="left:146px;top:47px;width:21px;height:20px;background:#e6e6e6;border-left:1px solid #a8a8a8;box-sizing:border-box"></div>
<div class="abs" style="left:65px;top:55px;width:0;height:0;border-left:3px solid transparent;border-right:3px solid transparent;border-top:3px solid #000"></div>
<div class="abs" style="left:154px;top:55px;width:0;height:0;border-left:3px solid transparent;border-right:3px solid transparent;border-bottom:3px solid #000"></div>
<div class="abs" style="left:79px;top:46px;width:64px;height:22px;line-height:23px;text-align:right;color:#202020;font-size:12px">1.00</div>
<div class="abs" style="left:19px;top:90px;font-size:12.5px;line-height:15px;font-weight:bold;color:#fff">25464</div>
<div class="abs" style="left:129.5px;top:90px;font-size:12.5px;line-height:15px;font-weight:bold;color:#fff">25477</div>
<div class="abs big" style="left:57px;top:72px;">.5</div>
<div class="abs big" style="left:168px;top:72px;">.5</div>


<div class="abs" style="left:1387px;top:403px;font-family:'Liberation Serif','Noto Serif CJK SC',serif;font-weight:600;font-size:30.5px;line-height:46px;color:#00f000;text-shadow:1px 1px 0 #000;letter-spacing:1.6px">多空转折点</div>
<div class="abs" style="left:1449px;top:481px;width:8px;height:1px;background:#ff0000"></div>
<div class="abs" style="left:1456px;top:479px;width:3px;height:4px;box-sizing:border-box;border:1px solid #ff0000;background:#fff"></div>
<div class="abs" style="left:1459px;top:465px;width:100px;height:33px;box-sizing:border-box;border:1px solid #ff0000;background:#fff;"></div>
<div class="abs" style="left:1459.8px;top:466px;height:31px;color:#ff0000;font-size:27.5px;line-height:32px;transform-origin:0 0;transform:scaleX(0.98)">25646.2</div>

<div class="abs" style="left:0;top:947px;width:1675px;height:2px;background:#f0f0f0"></div>
<div class="abs" style="left:1674px;top:24px;width:1px;height:925px;background:#f0f0f0"></div>
</body></html>
